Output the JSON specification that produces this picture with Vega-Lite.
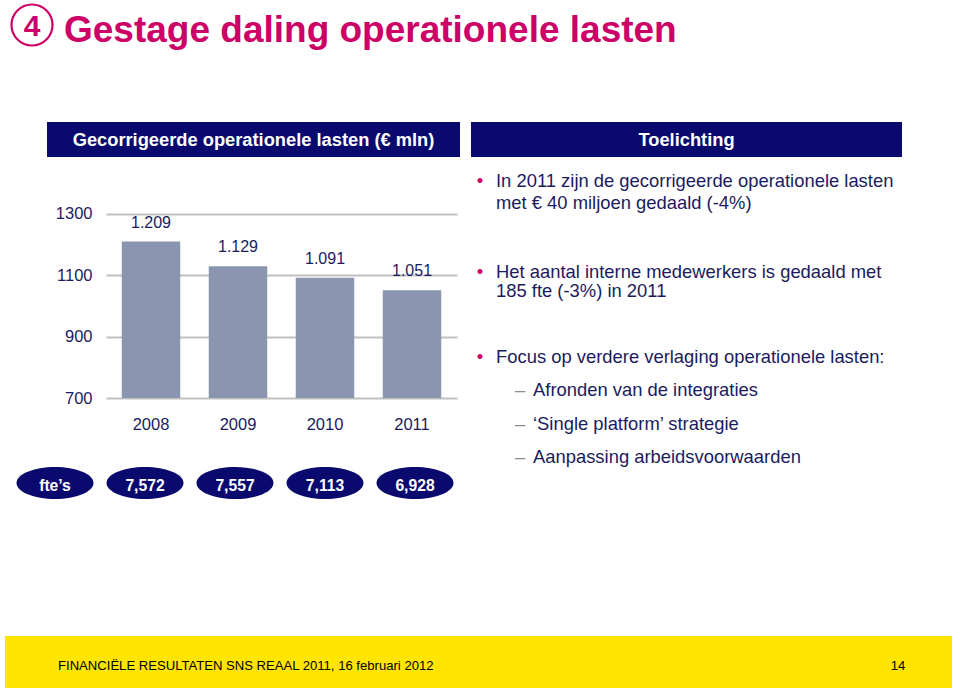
{
  "$schema": "https://vega.github.io/schema/vega-lite/v6.json",
  "padding": 0,
  "background": "white",
  "bounds": "full",
  "spacing": 0,
  "config": {
    "view": {"stroke": null},
    "font": "Liberation Sans",
    "text": {"font": "Liberation Sans"},
    "axis": {"labelFont": "Liberation Sans"}
  },
  "datasets": {
    "costs": [
      {"year": "2008", "lasten": 1209, "fte": 7572},
      {"year": "2009", "lasten": 1129, "fte": 7557},
      {"year": "2010", "lasten": 1091, "fte": 7113},
      {"year": "2011", "lasten": 1051, "fte": 6928}
    ],
    "notes": [
      {"line": 0, "level": 1, "marker": "•", "text": "In 2011 zijn de gecorrigeerde operationele lasten"},
      {"line": 2, "level": 1, "text": "met € 40 miljoen gedaald (-4%)"},
      {"line": 8.2, "level": 1, "marker": "•", "text": "Het aantal interne medewerkers is gedaald met"},
      {"line": 10, "level": 1, "text": "185 fte (-3%) in 2011"},
      {"line": 16, "level": 1, "marker": "•", "text": "Focus op verdere verlaging operationele lasten:"},
      {"line": 19, "level": 2, "marker": "–", "text": "Afronden van de integraties"},
      {"line": 22.1, "level": 2, "marker": "–", "text": "‘Single platform’ strategie"},
      {"line": 25.1, "level": 2, "marker": "–", "text": "Aanpassing arbeidsvoorwaarden"}
    ]
  },
  "vconcat": [
    {
      "hconcat": [
        {
          "width": 64, "height": 50,
          "data": {"values": [{"n": "4"}]},
          "layer": [
            {"mark": {"type": "point", "shape": "circle", "size": 1681, "filled": false, "stroke": "#CC0066", "strokeWidth": 2.2, "opacity": 1}, "encoding": {}},
            {"mark": {"type": "text", "fontSize": 30, "fontWeight": "bold", "color": "#CC0066", "baseline": "middle", "dy": 2}, "encoding": {"text": {"field": "n"}}}
          ]
        },
        {
          "width": 896, "height": 61,
          "data": {"values": [{"title": "Gestage daling operationele lasten"}]},
          "mark": {"type": "text", "align": "left", "baseline": "middle", "fontSize": 37, "fontWeight": "bold", "color": "#CC0066"},
          "encoding": {
            "x": {"field": "title", "type": "nominal", "scale": {"type": "point", "padding": 0, "align": 0}, "axis": null},
            "text": {"field": "title"}
          }
        }
      ],
      "spacing": 0, "bounds": "flush"
    },
    {"width": 1, "height": 61, "data": {"values": []}, "mark": "point", "encoding": {}},
    {
      "hconcat": [
        {"width": 47, "height": 35, "data": {"values": []}, "mark": "point", "encoding": {}},
        {
          "width": 413, "height": 35,
          "view": {"fill": "#0A0A6E", "stroke": null},
          "data": {"values": [{"label": "Gecorrigeerde operationele lasten (€ mln)"}]},
          "mark": {"type": "text", "color": "white", "fontSize": 18.3, "fontWeight": "bold", "baseline": "middle", "dy": 1.5},
          "encoding": {"text": {"field": "label"}}
        },
        {"width": 11, "height": 35, "data": {"values": []}, "mark": "point", "encoding": {}},
        {
          "width": 431, "height": 35,
          "view": {"fill": "#0A0A6E", "stroke": null},
          "data": {"values": [{"label": "Toelichting"}]},
          "mark": {"type": "text", "color": "white", "fontSize": 18.3, "fontWeight": "bold", "baseline": "middle", "dy": 1.5},
          "encoding": {"text": {"field": "label"}}
        }
      ],
      "spacing": 0, "bounds": "flush"
    },
    {"width": 1, "height": 9, "data": {"values": []}, "mark": "point", "encoding": {}},
    {
      "hconcat": [
        {"width": 106, "height": 10, "data": {"values": []}, "mark": "point", "encoding": {}},
        {
          "width": 351, "height": 232,
          "data": {"name": "costs"},
          "encoding": {
            "x": {
              "field": "year", "type": "ordinal",
              "scale": {"paddingInner": 0.3276, "paddingOuter": 0.181},
              "axis": {"title": null, "labelAngle": 0, "ticks": false, "domain": false, "grid": false, "labelPadding": 18, "labelFontSize": 16.5, "labelColor": "#1B1B5E"}
            },
            "y": {
              "field": "lasten", "type": "quantitative",
              "scale": {"domain": [700, 1455], "nice": false, "zero": false, "clamp": true},
              "axis": {"title": null, "values": [700, 900, 1100, 1300], "format": "d", "ticks": false, "domain": false, "labelPadding": 14, "labelFontSize": 16.5, "labelColor": "#1B1B5E", "gridColor": "#C0C0C0", "gridWidth": 2.2, "gridOpacity": 1}
            }
          },
          "layer": [
            {"mark": {"type": "bar", "color": "#8A96AF"}},
            {"mark": {"type": "text", "fontSize": 16, "color": "#1B1B5E", "baseline": "middle", "dy": -19, "text": {"expr": "replace(format(datum.lasten, ','), ',', '.')"}}}
          ]
        },
        {"width": 39, "height": 10, "data": {"values": []}, "mark": "point", "encoding": {}},
        {
          "width": 406, "height": 295,
          "data": {"name": "notes"},
          "encoding": {
            "y": {"field": "line", "type": "quantitative", "scale": {"domain": [-1.4, 25.44], "reverse": true, "nice": false, "zero": false}, "axis": null},
            "x": {"field": "level", "type": "quantitative", "scale": {"domain": [1, 2], "range": [0, 37], "nice": false, "zero": false}, "axis": null}
          },
          "layer": [
            {"mark": {"type": "text", "align": "left", "baseline": "middle", "fontSize": 18.4, "color": "#1B1B5E"}, "encoding": {"text": {"field": "text"}}},
            {"transform": [{"filter": {"field": "marker", "equal": "•"}}], "mark": {"type": "text", "align": "center", "baseline": "middle", "fontSize": 18.4, "color": "#CC0066", "dx": -16}, "encoding": {"text": {"field": "marker"}}},
            {"transform": [{"filter": {"field": "marker", "equal": "–"}}], "mark": {"type": "text", "align": "center", "baseline": "middle", "fontSize": 18.4, "color": "#8C8C8C", "dx": -13}, "encoding": {"text": {"field": "marker"}}}
          ]
        }
      ],
      "spacing": 0, "bounds": "flush"
    },
    {
      "hconcat": [
        {"width": 10, "height": 32, "data": {"values": []}, "mark": "point", "encoding": {}},
        {
          "width": 450, "height": 32,
          "layer": [
            {
              "data": {"name": "costs"},
              "mark": {"type": "point", "shape": "M-1,0A1,0.415,0,1,1,1,0A1,0.415,0,1,1,-1,0Z", "size": 5929, "filled": true, "color": "#0A0A6E", "opacity": 1},
              "encoding": {"x": {"field": "year", "type": "nominal", "scale": {"type": "point", "padding": 0.5, "domain": ["fte’s", "2008", "2009", "2010", "2011"]}, "axis": null}}
            },
            {
              "data": {"values": [{"label": "fte’s"}]},
              "mark": {"type": "point", "shape": "M-1,0A1,0.415,0,1,1,1,0A1,0.415,0,1,1,-1,0Z", "size": 5929, "filled": true, "color": "#0A0A6E", "opacity": 1},
              "encoding": {"x": {"field": "label", "type": "nominal", "axis": null}}
            },
            {
              "data": {"name": "costs"},
              "mark": {"type": "text", "color": "white", "fontWeight": "bold", "fontSize": 15.7, "baseline": "middle", "dy": 3},
              "encoding": {"x": {"field": "year", "type": "nominal", "axis": null}, "text": {"field": "fte", "type": "quantitative", "format": ",d"}}
            },
            {
              "data": {"values": [{"label": "fte’s"}]},
              "mark": {"type": "text", "color": "white", "fontWeight": "bold", "fontSize": 15.7, "baseline": "middle", "dy": 3},
              "encoding": {"x": {"field": "label", "type": "nominal", "axis": null}, "text": {"field": "label"}}
            }
          ]
        }
      ],
      "spacing": 0, "bounds": "flush"
    },
    {"width": 1, "height": 137, "data": {"values": []}, "mark": "point", "encoding": {}},
    {
      "hconcat": [
        {"width": 5, "height": 52, "data": {"values": []}, "mark": "point", "encoding": {}},
        {
          "width": 947, "height": 52,
          "view": {"fill": "#FFE500", "stroke": null},
          "data": {"values": [
            {"slot": "source", "text": "FINANCIËLE RESULTATEN SNS REAAL 2011, 16 februari 2012"},
            {"slot": "page", "text": "14"}
          ]},
          "encoding": {
            "x": {"field": "slot", "type": "nominal", "scale": {"type": "point", "padding": 0, "domain": ["source", "page"], "range": [53, 893]}, "axis": null},
            "text": {"field": "text"}
          },
          "layer": [
            {"transform": [{"filter": {"field": "slot", "equal": "source"}}], "mark": {"type": "text", "align": "left", "baseline": "middle", "fontSize": 13.1, "color": "black", "dy": 4}},
            {"transform": [{"filter": {"field": "slot", "equal": "page"}}], "mark": {"type": "text", "align": "center", "baseline": "middle", "fontSize": 13.1, "color": "black", "dy": 4}}
          ]
        }
      ],
      "spacing": 0, "bounds": "flush"
    }
  ]
}
